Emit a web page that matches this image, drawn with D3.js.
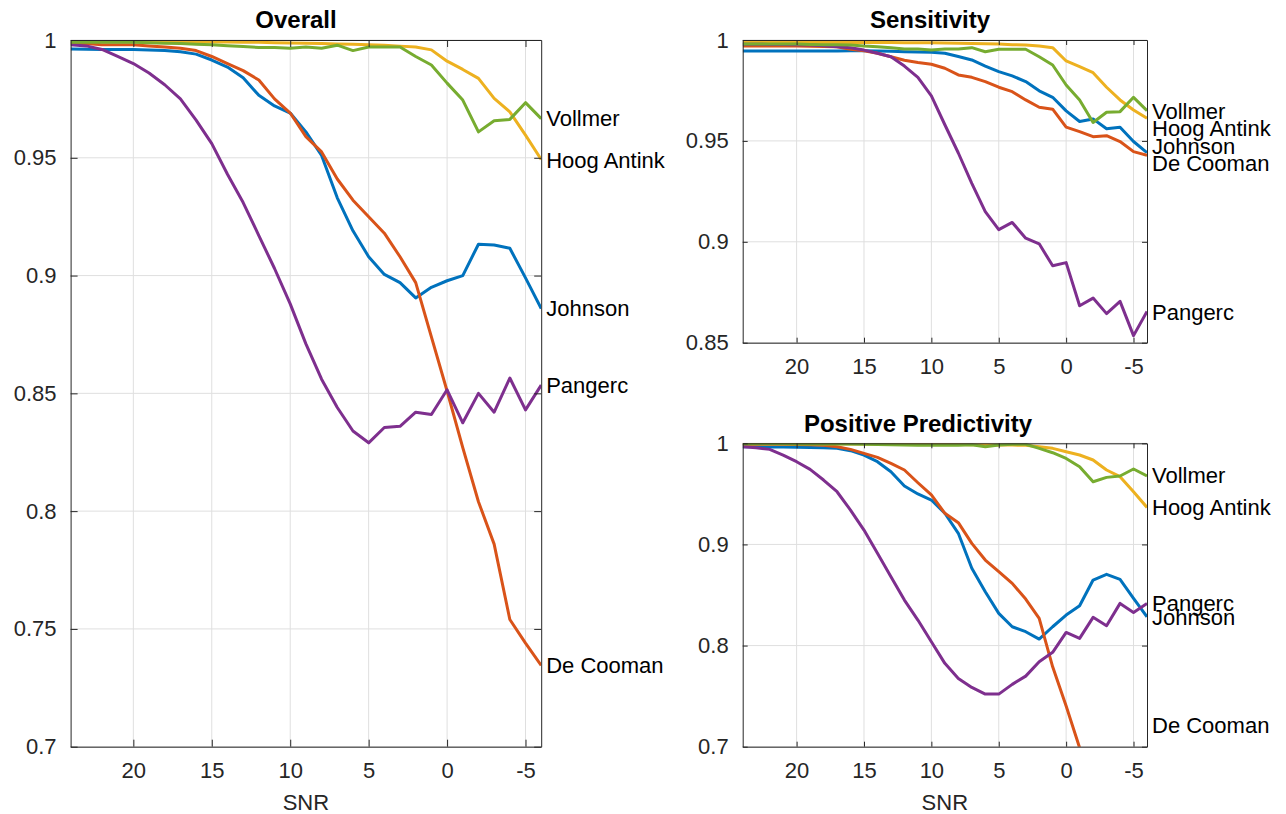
<!DOCTYPE html>
<html>
<head>
<meta charset="utf-8">
<script src="https://cdn.jsdelivr.net/npm/d3@7"></script>
<style>
    body { margin: 0; background: #fff; }
    svg text { font-family: "Liberation Sans", Arial, Helvetica, sans-serif; }
</style>
</head>
<body>
<script>
"use strict";
(function(){

    // SNR steps, read left to right (axis is reversed)
    const snr = [24, 23, 22, 21, 20, 19, 18, 17, 16, 15, 14, 13, 12, 11, 10,
        9, 8, 7, 6, 5, 4, 3, 2, 1, 0, -1, -2, -3, -4, -5, -6]

    // plot order = MATLAB colour order
    const methods = ["Johnson", "De Cooman", "Hoog Antink", "Pangerc", "Vollmer"]

    const colors = {
        "Johnson": "#0072BD",
        "De Cooman": "#D95319",
        "Hoog Antink": "#EDB120",
        "Pangerc": "#7E2F8E",
        "Vollmer": "#77AC30"
    }

    const xTicks = [20, 15, 10, 5, 0, -5]

    // ---- Overall
    const overallJohnson = [0.9962, 0.9961, 0.996, 0.996, 0.996, 0.9958, 0.9955, 0.995, 0.994, 0.9915,
        0.9885, 0.984, 0.9765, 0.972, 0.969, 0.961, 0.951, 0.933, 0.919, 0.908,
        0.9005, 0.897, 0.8905, 0.895, 0.8978, 0.900, 0.9133, 0.913, 0.9116, 0.899, 0.886]
    const overallDeCooman = [0.9985, 0.9985, 0.998, 0.998, 0.998, 0.9975, 0.997, 0.9965, 0.9955, 0.993,
        0.990, 0.987, 0.983, 0.975, 0.969, 0.959, 0.9525, 0.941, 0.932, 0.925,
        0.918, 0.908, 0.897, 0.874, 0.851, 0.827, 0.804, 0.786, 0.754, 0.744, 0.7345]
    const overallHoogAntink = [0.9995, 0.9995, 0.9995, 0.9995, 0.9995, 0.9994, 0.9994, 0.9993, 0.9993, 0.9992,
        0.9991, 0.999, 0.999, 0.9988, 0.9987, 0.9986, 0.9985, 0.9983, 0.9982, 0.998,
        0.9978, 0.9974, 0.997, 0.9958, 0.991, 0.9875, 0.9837, 0.9752, 0.9695, 0.9596, 0.9493]
    const overallPangerc = [0.998, 0.9975, 0.996, 0.993, 0.990, 0.986, 0.981, 0.975, 0.966, 0.956,
        0.943, 0.931, 0.917, 0.903, 0.888, 0.871, 0.856, 0.844, 0.834, 0.829,
        0.8355, 0.836, 0.842, 0.841, 0.8515, 0.8375, 0.850, 0.842, 0.8565, 0.843, 0.8535]
    const overallVollmer = [0.999, 0.999, 0.999, 0.999, 0.999, 0.9988, 0.9986, 0.9985, 0.9982, 0.998,
        0.9976, 0.9972, 0.9968, 0.9968, 0.9965, 0.997, 0.9965, 0.9978, 0.9955, 0.997,
        0.997, 0.997, 0.993, 0.9894, 0.9817, 0.9745, 0.961, 0.9657, 0.9663, 0.9734, 0.9666]
    const overallLabelAt = [0.886, 0.7345, 0.949, 0.8534, 0.9666]
    const overallTicks = [0.7, 0.75, 0.8, 0.85, 0.9, 0.95, 1]

    // ---- Sensitivity
    const sensJohnson = [0.9946, 0.9946, 0.9946, 0.9946, 0.9946, 0.9946, 0.9946, 0.9946, 0.9947, 0.9947,
        0.9945, 0.9944, 0.9942, 0.994, 0.9939, 0.9934, 0.9918, 0.9901, 0.9871, 0.9843,
        0.9822, 0.9794, 0.9748, 0.9716, 0.9649, 0.9596, 0.9609, 0.956, 0.9568, 0.9497, 0.9442]
    const sensDeCooman = [0.997, 0.997, 0.997, 0.997, 0.997, 0.9969, 0.9968, 0.9966, 0.9954, 0.9947,
        0.9934, 0.9917, 0.990, 0.9889, 0.988, 0.986, 0.9827, 0.9815, 0.9794, 0.9766,
        0.9744, 0.9703, 0.9667, 0.9657, 0.9568, 0.9546, 0.9521, 0.9526, 0.9497, 0.9447, 0.9429]
    const sensHoogAntink = [0.9988, 0.9988, 0.9988, 0.9988, 0.9988, 0.9988, 0.9988, 0.9988, 0.9988, 0.9987,
        0.9987, 0.9987, 0.9986, 0.9986, 0.9986, 0.9985, 0.9984, 0.9983, 0.9982, 0.998,
        0.9977, 0.9975, 0.997, 0.9962, 0.9896, 0.9868, 0.9838, 0.9766, 0.9703, 0.9653, 0.9612]
    const sensPangerc = [0.9979, 0.9979, 0.9978, 0.9978, 0.9977, 0.9975, 0.9972, 0.9967, 0.9962, 0.995,
        0.9934, 0.9917, 0.9871, 0.9815, 0.9723, 0.958, 0.944, 0.929, 0.915, 0.906,
        0.9096, 0.9018, 0.899, 0.8881, 0.8897, 0.8683, 0.8721, 0.8644, 0.8705, 0.8535, 0.8655]
    const sensVollmer = [0.998, 0.998, 0.998, 0.998, 0.998, 0.9978, 0.9977, 0.9976, 0.9975, 0.997,
        0.9967, 0.9962, 0.9955, 0.9955, 0.995, 0.9955, 0.9955, 0.9962, 0.9942, 0.9954,
        0.9954, 0.9954, 0.9917, 0.9876, 0.9777, 0.9703, 0.9591, 0.9642, 0.9645, 0.9716, 0.965]
    const sensLabelAt = [0.9472, 0.9391, 0.9564, 0.8651, 0.9646]
    const sensTicks = [0.85, 0.9, 0.95, 1]

    // ---- Positive Predictivity
    const ppvJohnson = [0.9966, 0.9965, 0.9964, 0.9963, 0.9962, 0.9958, 0.9955, 0.995, 0.9927, 0.9884,
        0.9818, 0.9719, 0.9578, 0.9499, 0.9439, 0.9308, 0.911, 0.8764, 0.8532, 0.8318,
        0.8186, 0.8137, 0.8064, 0.8186, 0.8302, 0.8394, 0.8648, 0.8704, 0.8655, 0.8467, 0.8285]
    const ppvDeCooman = [0.999, 0.999, 0.999, 0.999, 0.9988, 0.9985, 0.998, 0.9966, 0.994, 0.990,
        0.9861, 0.9802, 0.9736, 0.961, 0.9489, 0.9308, 0.9215, 0.9011, 0.8846, 0.873,
        0.8615, 0.846, 0.8269, 0.779, 0.7402, 0.699, 0.66, 0.63, 0.60, 0.58, 0.56]
    const ppvHoogAntink = [0.9995, 0.9995, 0.9995, 0.9995, 0.9995, 0.9995, 0.9995, 0.9995, 0.9994, 0.9993,
        0.9992, 0.9992, 0.999, 0.999, 0.9989, 0.9988, 0.9987, 0.9986, 0.9985, 0.9983,
        0.9982, 0.998, 0.9966, 0.995, 0.9917, 0.9884, 0.9835, 0.9736, 0.967, 0.9521, 0.9366]
    const ppvPangerc = [0.9966, 0.9957, 0.994, 0.9884, 0.9818, 0.9742, 0.9637, 0.9521, 0.934, 0.9142,
        0.8912, 0.868, 0.845, 0.8252, 0.8038, 0.7824, 0.7675, 0.7586, 0.752, 0.752,
        0.7616, 0.7698, 0.784, 0.7933, 0.813, 0.8071, 0.8279, 0.8196, 0.8417, 0.8328, 0.8417]
    const ppvVollmer = [0.9995, 0.9995, 0.9995, 0.9995, 0.9994, 0.9994, 0.9993, 0.9993, 0.9992, 0.999,
        0.9988, 0.9985, 0.9982, 0.998, 0.998, 0.998, 0.998, 0.9985, 0.9966, 0.9983,
        0.999, 0.999, 0.995, 0.9907, 0.985, 0.9769, 0.962, 0.9663, 0.9677, 0.9746, 0.9677]
    const ppvLabelAt = [0.8279, 0.7207, 0.9367, 0.8417, 0.968]
    const ppvTicks = [0.7, 0.8, 0.9, 1]

    const panels = [
        { title: "Overall", series: [overallJohnson, overallDeCooman, overallHoogAntink, overallPangerc, overallVollmer],
          labelAt: overallLabelAt, yTicks: overallTicks, yDomain: [0.7, 1],
          left: 70.6, right: 541.2, top: 40, bottom: 746.7, titleX: 296, titleY: 28, tick: 7, xLabel: true },
        { title: "Sensitivity", series: [sensJohnson, sensDeCooman, sensHoogAntink, sensPangerc, sensVollmer],
          labelAt: sensLabelAt, yTicks: sensTicks, yDomain: [0.85, 1],
          left: 742.7, right: 1147, top: 40, bottom: 342.7, titleX: 930, titleY: 28, tick: 5, xLabel: false },
        { title: "Positive Predictivity", series: [ppvJohnson, ppvDeCooman, ppvHoogAntink, ppvPangerc, ppvVollmer],
          labelAt: ppvLabelAt, yTicks: ppvTicks, yDomain: [0.7, 1],
          left: 742.7, right: 1147, top: 443.3, bottom: 746.7, titleX: 918, titleY: 432, tick: 5, xLabel: true }
    ]

    const measurements = { width: 1286, height: 814 }
    const axisColor = "#262626"
    const gridColor = "#dfdfdf"
    const fontSize = "22px"

    const svg = d3.select("body").append("svg")
        .attr("width", measurements.width)
        .attr("height", measurements.height)

    panels.forEach((p, i) => drawPanel(p, i))

    function drawPanel(p, idx) {
        const scaleX = d3.scaleLinear().domain([24, -6]).range([p.left, p.right])
        const scaleY = d3.scaleLinear().domain(p.yDomain).range([p.bottom, p.top])
        const g = svg.append("g")

        // grid
        g.selectAll(".vgrid").data(xTicks).enter().append("line")
            .attr("x1", d => scaleX(d)).attr("x2", d => scaleX(d))
            .attr("y1", p.top).attr("y2", p.bottom)
            .attr("stroke", gridColor).attr("stroke-width", 1)
        g.selectAll(".hgrid").data(p.yTicks).enter().append("line")
            .attr("x1", p.left).attr("x2", p.right)
            .attr("y1", d => scaleY(d)).attr("y2", d => scaleY(d))
            .attr("stroke", gridColor).attr("stroke-width", 1)

        // clip so lines stay inside the box
        const clipId = "clip" + idx
        svg.append("clipPath").attr("id", clipId)
            .append("rect")
            .attr("x", p.left).attr("y", p.top)
            .attr("width", p.right - p.left).attr("height", p.bottom - p.top)

        const line = d3.line()
            .x((d, i) => scaleX(snr[i]))
            .y(d => scaleY(d))

        g.append("g").attr("clip-path", "url(#" + clipId + ")")
            .selectAll("path").data(p.series).enter().append("path")
            .attr("d", d => line(d))
            .attr("fill", "none")
            .attr("stroke", (d, i) => colors[methods[i]])
            .attr("stroke-width", 3)
            .attr("stroke-linejoin", "round")

        // axes with inward ticks, mirrored on top/right
        const fmt = d => String(d)
        const bottomAxis = d3.axisBottom(scaleX).tickValues(xTicks).tickFormat(fmt)
            .tickSizeInner(-p.tick).tickSizeOuter(0).tickPadding(16)
        const topAxis = d3.axisTop(scaleX).tickValues(xTicks).tickFormat("")
            .tickSizeInner(-p.tick).tickSizeOuter(0)
        const leftAxis = d3.axisLeft(scaleY).tickValues(p.yTicks).tickFormat(fmt)
            .tickSizeInner(-p.tick).tickSizeOuter(0).tickPadding(14)
        const rightAxis = d3.axisRight(scaleY).tickValues(p.yTicks).tickFormat("")
            .tickSizeInner(-p.tick).tickSizeOuter(0)

        const axes = [
            [bottomAxis, "translate(0," + p.bottom + ")"],
            [topAxis, "translate(0," + p.top + ")"],
            [leftAxis, "translate(" + p.left + ",0)"],
            [rightAxis, "translate(" + p.right + ",0)"]
        ]
        axes.forEach(a => {
            const ag = g.append("g").attr("transform", a[1]).call(a[0])
            ag.select(".domain").attr("stroke", axisColor).attr("stroke-width", 1)
            ag.selectAll(".tick line").attr("stroke", axisColor).attr("stroke-width", 1)
            ag.selectAll(".tick text")
                .attr("fill", axisColor)
                .style("font-size", fontSize)
                .style("font-family", "'Liberation Sans', Arial, sans-serif")
        })

        // title
        g.append("text")
            .attr("x", p.titleX).attr("y", p.titleY)
            .attr("text-anchor", "middle")
            .style("font-size", "24px").style("font-weight", "bold")
            .attr("fill", "#000")
            .text(p.title)

        if (p.xLabel) {
            g.append("text")
                .attr("x", (p.left + p.right) / 2).attr("y", 810)
                .attr("text-anchor", "middle")
                .style("font-size", fontSize)
                .attr("fill", axisColor)
                .text("SNR")
        }

        // line end labels
        g.selectAll(".endlabel").data(methods).enter().append("text")
            .attr("x", p.right + 5)
            .attr("y", (d, i) => scaleY(p.labelAt[i]))
            .attr("dy", "0.35em")
            .style("font-size", fontSize)
            .attr("fill", "#000")
            .text(d => d)
    }
})()
</script>
</body>
</html>
